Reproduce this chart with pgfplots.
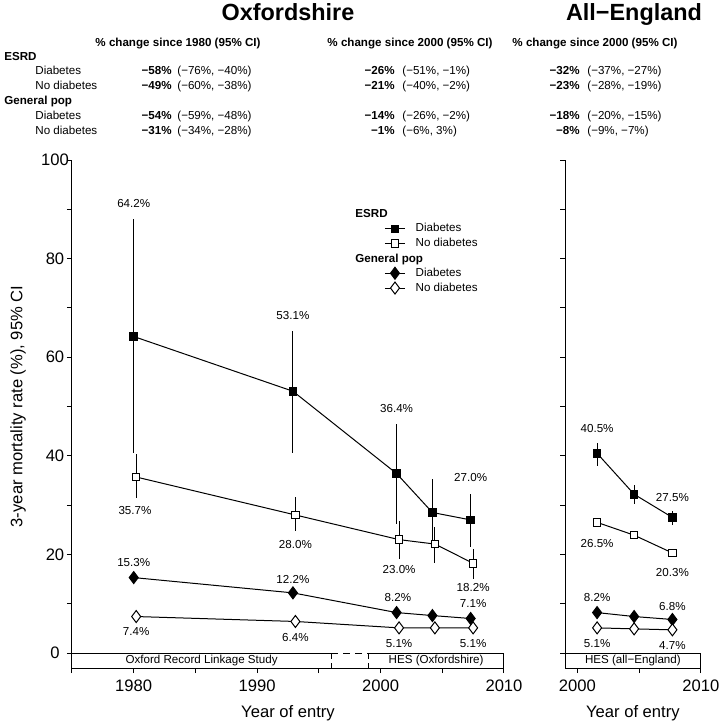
\documentclass[border=0pt]{standalone}
\usepackage{pgfplots}
\pgfplotsset{compat=1.18}
\usepackage{fontspec}
\setmainfont{Liberation Sans}
\newcommand{\fs}{\fontsize{5.8}{7}\selectfont}
\newcommand{\fm}{\fontsize{8.3}{10}\selectfont}
\newcommand{\ft}{\fontsize{11.7}{14}\selectfont\bfseries}

\pgfplotsset{
  base/.style={
    scale only axis, height=254pt, ymin=-3.04, ymax=100,
    axis x line*=bottom, axis y line*=left,
    axis line style={line width=0.5pt,-},
    tick align=outside, major tick length=2.5pt, minor tick length=2.5pt,
    tick style={black,line width=0.5pt},
    ytick={0,20,...,100}, minor ytick={10,30,...,90},
    tick label style={font=\fm},
    yticklabel style={anchor=center, xshift=-6pt},
    /pgf/number format/assume math mode=true,
    /pgf/number format/1000 sep={},
    clip=false, anchor=south west,
    xlabel={Year of entry}, label style={font=\fm},
    xlabel style={at={(rel axis cs:0.5,-0.0886)},anchor=center},
  },
  eb/.style={error bars/y dir=both, error bars/y explicit, error bars/error mark=none,
     error bars/error bar style={line width=0.5pt,black}},
  sD/.style={black,line width=0.5pt,mark=square*,mark size=1.9pt,mark options={solid,fill=black}},
  sN/.style={black,line width=0.5pt,mark=square*,mark size=1.9pt,mark options={solid,fill=white}},
  gD/.style={black,line width=0.5pt,mark=diamond*,mark size=3pt,mark options={solid,fill=black}},
  gN/.style={black,line width=0.5pt,mark=diamond*,mark size=3pt,mark options={solid,fill=white}},
}

\begin{document}
\begin{tikzpicture}
\path[use as bounding box] (0,0) rectangle (361pt,-362pt);

% ---------------- Oxfordshire ----------------
\begin{axis}[base, at={(36pt,-334pt)}, width=216pt,
  xmin=1975, xmax=2010,
  xtick={1980,1990,2000,2010}, minor xtick={1975,1985,1995,2005},
  ylabel={3-year mortality rate (\%), 95\% CI},
  ylabel style={at={(rel axis cs:-0.125,0.515)},anchor=center},
  legend style={draw=none,fill=none,inner sep=0pt,row sep=0pt,column sep=4.5pt,
     font=\fs, at={(0.7224,0.909)}, anchor=north west,
     nodes={inner sep=0.6pt,text height=4.6pt,text depth=1.6pt}},
  legend cell align=left,
  legend image code/.code={\draw[mark repeat=2,mark phase=2] plot coordinates {(0pt,0pt)(5pt,0pt)(10pt,0pt)};},
]
\addplot[sD,eb,forget plot] coordinates {
 (1980,64.2) += (0,23.8) -= (0,23.7)
 (1992.9,53.1) += (0,12.3) -= (0,12.5)
 (2001.3,36.4) += (0,10.1) -= (0,10.2)
 (2004.2,28.5) += (0,6.7) -= (0,6.5)
 (2007.3,27.0) += (0,5.3) -= (0,5.5)
};
\addplot[sN,eb,forget plot] coordinates {
 (1980.2,35.7) += (0,4.7) -= (0,4.2)
 (1993.1,28.0) += (0,3.7) -= (0,3.2)
 (2001.5,23.0) += (0,3.8) -= (0,3.9)
 (2004.4,22.1) += (0,3.5) -= (0,3.8)
 (2007.5,18.2) += (0,2.9) -= (0,3.2)
};
\addplot[gD,eb,forget plot] coordinates {
 (1980,15.3) += (0,1.0) -= (0,1.0)
 (1992.9,12.2) += (0,0.9) -= (0,0.9)
 (2001.3,8.2) += (0,0.4) -= (0,0.4)
 (2004.2,7.6) += (0,0.3) -= (0,0.3)
 (2007.3,7.0) += (0,0.3) -= (0,0.3)
};
\addplot[gN,eb,forget plot] coordinates {
 (1980.2,7.4) += (0,0.3) -= (0,0.3)
 (1993.1,6.4) += (0,0.3) -= (0,0.3)
 (2001.5,5.1) += (0,0.2) -= (0,0.2)
 (2004.4,5.1) += (0,0.2) -= (0,0.2)
 (2007.5,5.1) += (0,0.2) -= (0,0.2)
};
\addlegendimage{empty legend}\addlegendentry{}
\addlegendimage{sD}\addlegendentry{Diabetes}
\addlegendimage{sN}\addlegendentry{No diabetes}
\addlegendimage{empty legend}\addlegendentry{}
\addlegendimage{gD}\addlegendentry{Diabetes}
\addlegendimage{gN}\addlegendentry{No diabetes}

% data labels
\begin{scope}[every node/.style={font=\fs}]
\node at (axis cs:1980,91.1) {64.2\%};
\node at (axis cs:1992.9,68.4) {53.1\%};
\node at (axis cs:2001.3,49.5) {36.4\%};
\node at (axis cs:2007.3,35.5) {27.0\%};
\node at (axis cs:1980.1,29.0) {35.7\%};
\node at (axis cs:1993.1,22.1) {28.0\%};
\node at (axis cs:2001.5,17.0) {23.0\%};
\node at (axis cs:2007.5,13.2) {18.2\%};
\node at (axis cs:1980,18.3) {15.3\%};
\node at (axis cs:1992.9,15.0) {12.2\%};
\node at (axis cs:2001.4,11.2) {8.2\%};
\node at (axis cs:2007.5,10.1) {7.1\%};
\node at (axis cs:1980.2,4.3) {7.4\%};
\node at (axis cs:1993.1,3.2) {6.4\%};
\node at (axis cs:2001.5,2.0) {5.1\%};
\node at (axis cs:2007.5,2.0) {5.1\%};
\end{scope}
% data source box
\draw[line width=0.5pt] (axis cs:1975,0) -- (axis cs:1996,0);
\draw[line width=0.5pt,dash pattern=on 3.5pt off 2.5pt] (axis cs:1996,0) -- (axis cs:1999,0);
\draw[line width=0.5pt,dash pattern=on 3pt off 2pt] (axis cs:1996,0) -- (axis cs:1996,-3.04);
\draw[line width=0.5pt,dash pattern=on 3pt off 2pt] (axis cs:1999,0) -- (axis cs:1999,-3.04);
\draw[line width=0.5pt] (axis cs:1999,0) -- (axis cs:2010,0) -- (axis cs:2010,-3.04);
\node[font=\fs] at (axis cs:1985.5,-1.5) {Oxford Record Linkage Study};
\node[font=\fs] at (axis cs:2004.5,-1.5) {HES (Oxfordshire)};
\end{axis}

% ---------------- All-England ----------------
\begin{axis}[base, at={(282.5pt,-334pt)}, width=67.9pt,
  xmin=1999, xmax=2010,
  xtick={2000,2010}, minor xtick={2005},
  yticklabels={},
]
\addplot[sD,eb] coordinates {
 (2001.6,40.5) += (0,2.2) -= (0,2.5)
 (2004.6,32.2) += (0,1.8) -= (0,1.9)
 (2007.7,27.5) += (0,1.4) -= (0,1.5)
};
\addplot[sN,eb] coordinates {
 (2001.6,26.5) += (0,0.8) -= (0,0.8)
 (2004.6,23.9) += (0,0.6) -= (0,0.6)
 (2007.7,20.3) += (0,0.5) -= (0,0.5)
};
\addplot[gD,eb] coordinates {
 (2001.6,8.2) += (0,0.2) -= (0,0.2)
 (2004.6,7.4) += (0,0.2) -= (0,0.2)
 (2007.7,6.8) += (0,0.2) -= (0,0.2)
};
\addplot[gN,eb] coordinates {
 (2001.6,5.1) += (0,0.1) -= (0,0.1)
 (2004.6,4.9) += (0,0.1) -= (0,0.1)
 (2007.7,4.7) += (0,0.1) -= (0,0.1)
};
\begin{scope}[every node/.style={font=\fs}]
\node at (axis cs:2001.6,45.6) {40.5\%};
\node at (axis cs:2007.7,31.6) {27.5\%};
\node at (axis cs:2001.6,22.3) {26.5\%};
\node at (axis cs:2007.7,16.4) {20.3\%};
\node at (axis cs:2001.6,11.2) {8.2\%};
\node at (axis cs:2007.7,9.5) {6.8\%};
\node at (axis cs:2001.6,2.0) {5.1\%};
\node at (axis cs:2007.7,1.6) {4.7\%};
\end{scope}
\draw[line width=0.5pt] (axis cs:1999,0) -- (axis cs:2010,0) -- (axis cs:2010,-3.04);
\node[font=\fs] at (axis cs:2004.5,-1.5) {HES (all−England)};
\end{axis}

% ---------------- header table ----------------
\begin{scope}[x=0.5pt,y=-0.5pt]
\node[anchor=base,font=\ft] at (288,20.5) {Oxfordshire};
\node[anchor=base,font=\ft] at (634,20.5) {All−England};
\begin{scope}[every node/.style={font=\fs,inner sep=0pt}]
% legend group headings
\node[anchor=base west,font=\fs\bfseries] at (355,217) {ESRD};
\node[anchor=base west,font=\fs\bfseries] at (355,262) {General pop};
\node[anchor=base,font=\fs\bfseries] at (178,46) {\% change since 1980 (95\% CI)};
\node[anchor=base,font=\fs\bfseries] at (410,46) {\% change since 2000 (95\% CI)};
\node[anchor=base,font=\fs\bfseries] at (595,46) {\% change since 2000 (95\% CI)};
\node[anchor=base west,font=\fs\bfseries] at (4,60) {ESRD};
\node[anchor=base west] at (35,74) {Diabetes};
\node[anchor=base west] at (35,89) {No diabetes};
\node[anchor=base west,font=\fs\bfseries] at (4,104) {General pop};
\node[anchor=base west] at (35,119) {Diabetes};
\node[anchor=base west] at (35,134) {No diabetes};
% column 1
\node[anchor=base east,font=\fs\bfseries] at (172,74) {−58\%};
\node[anchor=base east,font=\fs\bfseries] at (172,89) {−49\%};
\node[anchor=base east,font=\fs\bfseries] at (172,119) {−54\%};
\node[anchor=base east,font=\fs\bfseries] at (172,134) {−31\%};
\node[anchor=base west] at (177,74) {(−76\%, −40\%)};
\node[anchor=base west] at (177,89) {(−60\%, −38\%)};
\node[anchor=base west] at (177,119) {(−59\%, −48\%)};
\node[anchor=base west] at (177,134) {(−34\%, −28\%)};
% column 2
\node[anchor=base east,font=\fs\bfseries] at (395,74) {−26\%};
\node[anchor=base east,font=\fs\bfseries] at (395,89) {−21\%};
\node[anchor=base east,font=\fs\bfseries] at (395,119) {−14\%};
\node[anchor=base east,font=\fs\bfseries] at (395,134) {−1\%};
\node[anchor=base west] at (402,74) {(−51\%, −1\%)};
\node[anchor=base west] at (402,89) {(−40\%, −2\%)};
\node[anchor=base west] at (402,119) {(−26\%, −2\%)};
\node[anchor=base west] at (402,134) {(−6\%, 3\%)};
% column 3
\node[anchor=base east,font=\fs\bfseries] at (580,74) {−32\%};
\node[anchor=base east,font=\fs\bfseries] at (580,89) {−23\%};
\node[anchor=base east,font=\fs\bfseries] at (580,119) {−18\%};
\node[anchor=base east,font=\fs\bfseries] at (580,134) {−8\%};
\node[anchor=base west] at (587,74) {(−37\%, −27\%)};
\node[anchor=base west] at (587,89) {(−28\%, −19\%)};
\node[anchor=base west] at (587,119) {(−20\%, −15\%)};
\node[anchor=base west] at (587,134) {(−9\%, −7\%)};
\end{scope}
\end{scope}
\end{tikzpicture}
\end{document}
